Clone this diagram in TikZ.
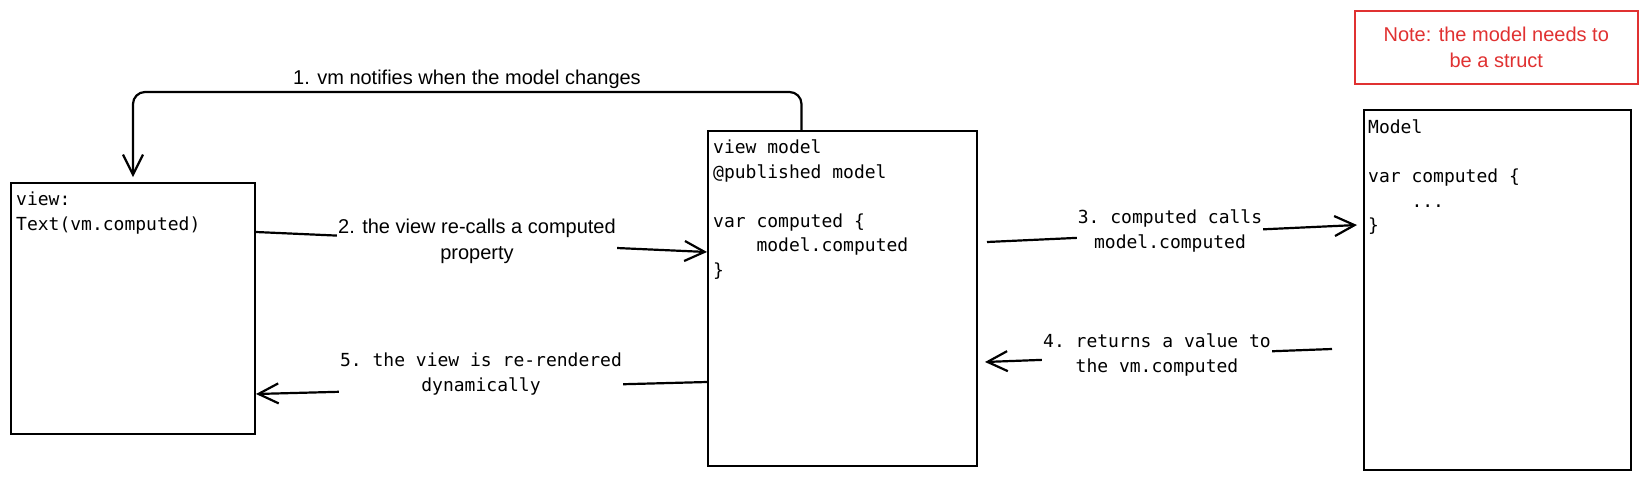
\documentclass[tikz,border=0pt]{standalone}
\usepackage{fontspec}
\setmonofont{DejaVu Sans Mono}
\newfontfamily\handfont{Liberation Sans}
\usetikzlibrary{arrows.meta}
\definecolor{notered}{HTML}{E03131}

\begin{document}
\begin{tikzpicture}[x=1pt, y=-1pt]
            \tikzstyle{box} = [draw, line width=2pt, inner sep=0pt, anchor=north west]
            \tikzstyle{code} = [font=\ttfamily\fontsize{18}{24.5}\selectfont, align=left, anchor=north west, inner sep=0pt]
            \tikzstyle{arr} = [line width=2.2pt, -{Straight Barb[length=20pt, width=20pt]}]
            \tikzstyle{hand} = [font=\handfont\fontsize{20}{26}\selectfont, align=center, fill=white, inner sep=1pt]
            \tikzstyle{mono} = [font=\ttfamily\fontsize{18}{25}\selectfont, align=center, fill=white, inner sep=1pt]
            \useasboundingbox (0,0) rectangle (1647,480);
            % boxes
            \node[box, minimum width=244pt, minimum height=251pt] (view) at (10,182) {};
            \node[box, minimum width=269pt, minimum height=335pt] (vm) at (707,130) {};
            \node[box, minimum width=267pt, minimum height=360pt] (model) at (1363,109) {};
            \node[box, draw=notered, line width=1.5pt, minimum width=283pt, minimum height=73pt] (note) at (1354,10) {};
            \node[code] (viewtext) at ([xshift=6pt, yshift=-10pt]view.north west) {view:\\Text(vm.computed)};
            \node[code] (vmtext) at ([xshift=6pt, yshift=-10pt]vm.north west)
                {view model\\@published model\\\mbox{}\\var computed \{\\\phantom{xxxx}model.computed\\\}};
            \node[code] (modeltext) at ([xshift=5pt, yshift=-11pt]model.north west)
                {Model\\\mbox{}\\var computed \{\\\phantom{xxxx}...\\\}};
            \node[hand, fill=none, text=notered] (notetext) at (note.center) {Note: the model needs to\\be a struct};
            % connectors
            \draw[arr, rounded corners=12pt] ([xshift=-41pt]vm.north) -- ++(0,-38) -| ([yshift=5pt]view.north);
            \draw[arr] ([yshift=-50pt]view.north east) -- ([yshift=-122pt]vm.north west);
            \draw[arr] ([xshift=9pt, yshift=-112pt]vm.north east) -- ([xshift=-6pt, yshift=-116pt]model.north west);
            \draw[arr] ([xshift=-31pt, yshift=-240pt]model.north west) -- ([xshift=7pt, yshift=-232pt]vm.north east);
            \draw[arr] ([yshift=-252pt]vm.north west) -- ([yshift=-212pt]view.north east);
            % labels
            \node[hand] (lbl1) at (467,79) {1. vm notifies when the model changes};
            \node[hand] (lbl2) at (477,241) {2. the view re-calls a computed\\property};
            \node[mono] (lbl3) at (1170,231) {3. computed calls\\model.computed};
            \node[mono] (lbl4) at (1157,355) {4. returns a value to\\the vm.computed};
            \node[mono] (lbl5) at (481,374) {5. the view is re-rendered\\dynamically};
\end{tikzpicture}
\end{document}
